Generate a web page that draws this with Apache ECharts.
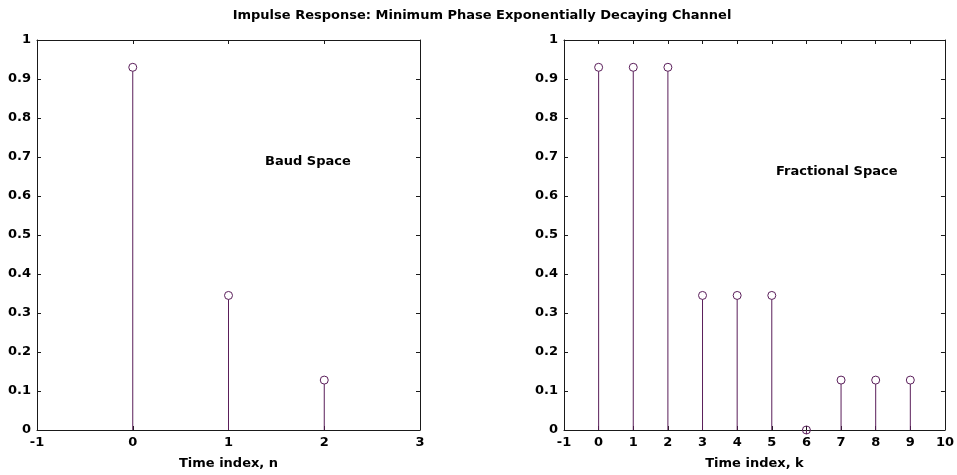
<!DOCTYPE html>
<html>
<head>
<meta charset="utf-8">
<script src="https://cdn.jsdelivr.net/npm/echarts@6/dist/echarts.min.js"></script>
<style>
  html, body { margin: 0; padding: 0; background: #fff; }
  #chart { width: 957px; height: 475px; }
</style>
</head>
<body>
<div id="chart"></div>
<script>
// Baud-spaced channel taps (n = 0..2)
const baudIndex = [0, 1, 2];
const baudTaps = [0.93, 0.345, 0.128];

// Fractionally spaced taps (k = 0..9)
const fracIndex = [0, 1, 2, 3, 4, 5, 6, 7, 8, 9];
const fracTaps = [0.93, 0.93, 0.93, 0.345, 0.345, 0.345, 0, 0.128, 0.128, 0.128];

const stemColor = '#5a1e5a';
const axisColor = '#1a1a1a';
const font = '"DejaVu Sans", "Liberation Sans", Arial, sans-serif';
const fontSize = 13;

function stemSeries(xIdx, yIdx, xs, ys) {
  return {
    type: 'custom',
    xAxisIndex: xIdx,
    yAxisIndex: yIdx,
    data: xs.map((x, i) => [x, ys[i]]),
    clip: false,
    z: 5,
    renderItem: function (params, api) {
      const top = api.coord([api.value(0), api.value(1)]);
      const base = api.coord([api.value(0), 0]);
      return {
        type: 'group',
        children: [
          {
            type: 'line',
            shape: { x1: base[0], y1: base[1], x2: top[0], y2: top[1] + 4 },
            style: { stroke: stemColor, lineWidth: 1 }
          },
          {
            type: 'circle',
            shape: { cx: top[0], cy: top[1], r: 4 },
            style: { fill: 'none', stroke: stemColor, lineWidth: 1 }
          }
        ]
      };
    }
  };
}

function xAxis(gridIndex, max, name, position, show) {
  return {
    type: 'value',
    gridIndex: gridIndex,
    position: position,
    min: -1, max: max, interval: 1,
    name: show ? name : '',
    nameLocation: 'middle',
    nameGap: 27,
    nameTextStyle: { color: '#000', fontFamily: font, fontWeight: 'bold', fontSize: fontSize },
    axisLine: { show: true, onZero: false, lineStyle: { color: axisColor, width: 1 } },
    axisTick: { show: true, inside: true, length: 4, lineStyle: { color: axisColor } },
    axisLabel: { show: show, color: '#000', fontFamily: font, fontWeight: 'bold', fontSize: fontSize, margin: 6 },
    splitLine: { show: false }
  };
}

function yAxis(gridIndex, position, show) {
  return {
    type: 'value',
    gridIndex: gridIndex,
    position: position,
    min: 0, max: 1, interval: 0.1,
    axisLine: { show: true, onZero: false, lineStyle: { color: axisColor, width: 1 } },
    axisTick: { show: true, inside: true, length: 4, lineStyle: { color: axisColor } },
    axisLabel: {
      show: show, color: '#000', fontFamily: font, fontWeight: 'bold', fontSize: fontSize, margin: 6,
      formatter: v => String(Math.round(v * 10) / 10)
    },
    splitLine: { show: false }
  };
}

const textStyle = { fontFamily: font, fontWeight: 'bold', fontSize: fontSize, color: '#000' };

const chart = echarts.init(document.getElementById('chart'), null, { renderer: 'canvas' });
chart.setOption({
  animation: false,
  backgroundColor: '#fff',
  title: [
    {
      text: 'Impulse Response: Minimum Phase Exponentially Decaying Channel',
      left: 477, top: 4, textAlign: 'center', textStyle: textStyle
    },
    { text: 'Baud Space', left: 260, top: 150, textStyle: textStyle },
    { text: 'Fractional Space', left: 771, top: 160, textStyle: textStyle }
  ],
  grid: [
    { left: 37, top: 40, width: 383, height: 392 },
    { left: 564, top: 40, width: 383, height: 392 }
  ],
  xAxis: [
    xAxis(0, 3, 'Time index, n', 'bottom', true),
    xAxis(0, 3, '', 'top', false),
    xAxis(1, 10, 'Time index, k', 'bottom', true),
    xAxis(1, 10, '', 'top', false)
  ],
  yAxis: [
    yAxis(0, 'left', true),
    yAxis(0, 'right', false),
    yAxis(1, 'left', true),
    yAxis(1, 'right', false)
  ],
  series: [
    stemSeries(0, 0, baudIndex, baudTaps),
    stemSeries(2, 2, fracIndex, fracTaps)
  ]
});
</script>
</body>
</html>
